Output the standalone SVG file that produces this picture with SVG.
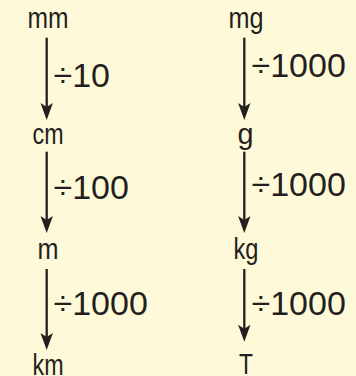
<svg xmlns="http://www.w3.org/2000/svg" width="356" height="376" viewBox="0 0 356 376">
<style>
.unit{font-family:"Liberation Sans Narrow","Liberation Sans",Arial,sans-serif;font-size:30px;fill:#231f20;text-anchor:middle}
.op{font-family:"Liberation Sans",Arial,sans-serif;font-size:34px;fill:#231f20}
.ln{stroke:#231f20;stroke-width:2.3;fill:none}
.hd{fill:#231f20}
</style>
<defs>
<path id="head" d="M0,0 L-6.2,-17 L0,-13 L6.2,-17 Z"/>
</defs>
<rect width="356" height="376" fill="#fef9d8"/>
<g id="connectors">
<line class="ln" x1="46.7" y1="37.7" x2="46.7" y2="108"/><use href="#head" class="hd" x="46.7" y="120"/>
<line class="ln" x1="46.7" y1="151.7" x2="46.7" y2="221"/><use href="#head" class="hd" x="46.7" y="233"/>
<line class="ln" x1="46.7" y1="269" x2="46.7" y2="338"/><use href="#head" class="hd" x="46.7" y="350"/>
<line class="ln" x1="244.3" y1="37.7" x2="244.3" y2="108"/><use href="#head" class="hd" x="244.3" y="120"/>
<line class="ln" x1="244.3" y1="151.7" x2="244.3" y2="221"/><use href="#head" class="hd" x="244.3" y="233"/>
<line class="ln" x1="244.3" y1="269" x2="244.3" y2="330"/><use href="#head" class="hd" x="244.3" y="341.7"/>
</g>
<g id="mm"><text class="unit" x="48" y="28" textLength="41" lengthAdjust="spacingAndGlyphs">mm</text></g>
<g id="cm"><text class="unit" x="48" y="144" textLength="31" lengthAdjust="spacingAndGlyphs">cm</text></g>
<g id="m"><text class="unit" x="48" y="258.7" textLength="21" lengthAdjust="spacingAndGlyphs">m</text></g>
<g id="km"><text class="unit" x="48" y="374.5" textLength="31" lengthAdjust="spacingAndGlyphs">km</text></g>
<g id="mg"><text class="unit" x="246" y="28" textLength="35" lengthAdjust="spacingAndGlyphs">mg</text></g>
<g id="g"><text class="unit" x="245.5" y="144" textLength="16" lengthAdjust="spacingAndGlyphs">g</text></g>
<g id="kg"><text class="unit" x="246" y="258.7" textLength="25" lengthAdjust="spacingAndGlyphs">kg</text></g>
<g id="T"><text class="unit" x="246" y="373.5" textLength="14" lengthAdjust="spacingAndGlyphs">T</text></g>
<g id="labels">
<text class="op" x="53.5" y="87">÷10</text>
<text class="op" x="53.5" y="199">÷100</text>
<text class="op" x="53.5" y="315">÷1000</text>
<text class="op" x="251.5" y="77">÷1000</text>
<text class="op" x="251.5" y="195.7">÷1000</text>
<text class="op" x="251.5" y="315">÷1000</text>
</g>
</svg>
